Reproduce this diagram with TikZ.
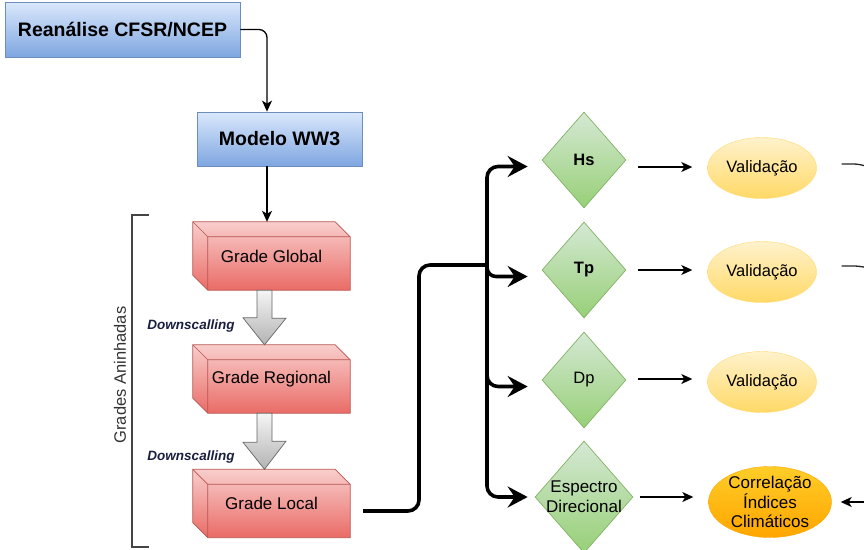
\documentclass[tikz,border=0pt]{standalone}
\usepackage{fontspec}
\setmainfont{Liberation Sans}
\usetikzlibrary{shapes.geometric,arrows.meta,backgrounds,calc}
\definecolor{bluetop}{HTML}{DAE8FC}
\definecolor{bluebot}{HTML}{7EA6E0}
\definecolor{blueline}{HTML}{6C8EBF}
\definecolor{redtop}{HTML}{F8CECC}
\definecolor{redbot}{HTML}{EA6B66}
\definecolor{redline}{HTML}{B85450}
\definecolor{greentop}{HTML}{D5E8D4}
\definecolor{greenbot}{HTML}{97D077}
\definecolor{greenline}{HTML}{82B366}
\definecolor{yeltop}{HTML}{FFF2CC}
\definecolor{yelbot}{HTML}{FFD966}
\definecolor{orgtop}{HTML}{FFCD28}
\definecolor{orgbot}{HTML}{FFA500}
\definecolor{graytop}{HTML}{F5F5F5}
\definecolor{graybot}{HTML}{B3B3B3}
\definecolor{grayline}{HTML}{666666}
\definecolor{navytext}{HTML}{1A1F40}
\definecolor{brackline}{HTML}{444444}
\tikzset{
  bluebox/.style={draw=blueline, line width=0.8pt, top color=bluetop, bottom color=bluebot,
    font=\fontsize{19.5}{22}\selectfont\bfseries, inner sep=0pt},
  cubebox/.style={inner sep=0pt, minimum width=157pt, minimum height=68pt,
    font=\fontsize{17}{20}\selectfont},
  cubefill/.style={top color=redtop, bottom color=redbot},
  cubeline/.style={draw=redline, line width=0.7pt},
  dia/.style={shape=diamond, draw=greenline, line width=0.7pt, top color=greentop, bottom color=greenbot,
    inner sep=0pt, minimum width=84pt, minimum height=96pt},
  dlbl/.style={font=\fontsize{16.5}{20}\selectfont, align=center},
  ell/.style={shape=ellipse, top color=yeltop, bottom color=yelbot, draw=yelbot!90!yeltop, line width=0.4pt,
    inner sep=0pt, minimum width=109pt, minimum height=61pt},
  elo/.style={shape=ellipse, top color=orgtop, bottom color=orgbot, draw=orgbot, line width=0.4pt,
    inner sep=0pt, minimum width=123pt, minimum height=71pt},
  elbl/.style={font=\fontsize{16.5}{19.5}\selectfont, align=center},
  conn/.style={draw=black, line width=1.3pt, -{Stealth[length=11pt,width=10pt,inset=3pt]}},
  thinline/.style={draw=black!85, line width=1.3pt},
  thickline/.style={draw=black, line width=3.6pt},
  thickarrow/.style={draw=black, line width=3.6pt, -{Stealth[length=20pt,width=21pt,inset=7pt]}},
  blockarrow/.style={draw=grayline, line width=0.7pt, top color=graytop, bottom color=graybot},
  dslbl/.style={font=\fontsize{13.5}{16}\selectfont\bfseries\itshape, text=navytext},
}
\newcommand\drawcube[1]{%
  \path[cubefill] (#1.north west) -- ([xshift=-15pt]#1.north east) -- ([yshift=-15pt]#1.north east)
     -- (#1.south east) -- ([xshift=15pt]#1.south west) -- ([yshift=15pt]#1.south west) -- cycle;
  \draw[cubeline] (#1.north west) -- ([xshift=-15pt]#1.north east) -- ([yshift=-15pt]#1.north east)
     -- (#1.south east) -- ([xshift=15pt]#1.south west) -- ([yshift=15pt]#1.south west) -- cycle;
  \draw[cubeline] (#1.north west) -- ([xshift=15pt,yshift=-15pt]#1.north west) -- ([yshift=-15pt]#1.north east)
     ([xshift=15pt,yshift=-15pt]#1.north west) -- ([xshift=15pt]#1.south west);
}
\newcommand\drawblock[3]{% from node #1 to node #2, x offset #3
  \coordinate (bk1) at ([xshift=#3]#1.south);
  \coordinate (bk2) at (bk1 |- #2.north);
  \path[blockarrow] (bk1) ++(-7.5,0) -- ++(15,0) -- ++(0,28) -- ++(14,0)
     -- (bk2) -- ++(-21.5,-27) -- ++(14,0) -- cycle;
}
\begin{document}
\begin{tikzpicture}[x=1pt,y=-1pt]
\useasboundingbox (0,0) rectangle (864,549);

% blue boxes
\node[bluebox, minimum width=235pt, minimum height=55pt] (re) at (122.5,29.5) {Reanálise CFSR/NCEP};
\node[bluebox, minimum width=165pt, minimum height=54pt] (mw) at (279.5,139) {Modelo WW3};

% cubes
\node[cubebox] (gg) at (271.5,256) {Grade Global};
\node[cubebox] (gr) at (271.5,379) {Grade Regional};
\node[cubebox] (gl) at (271.5,503.5) {Grade Local};
\begin{pgfonlayer}{background}
  \drawcube{gg}
  \drawcube{gr}
  \drawcube{gl}
\end{pgfonlayer}

% block arrows
\drawblock{gg}{gr}{-7pt}
\drawblock{gr}{gl}{-7pt}
\node[dslbl] (ds1) at (191,326) {Downscalling};
\node[dslbl] (ds2) at (191,457) {Downscalling};

% bracket
\coordinate (bt) at (149,215);
\coordinate (bb) at (149,547);
\draw[brackline, line width=1.2pt] (bt) -- ++(-17,0) -- ++(0,332) -- (bb);
\node[rotate=90, font=\fontsize{16.5}{20}\selectfont, text=black!80] (ga) at (120,375) {Grades Aninhadas};

% connectors top
\draw[conn, rounded corners=8pt] (re.east) -| ([xshift=-12.5pt]mw.north);
\coordinate (mwb) at ([xshift=-12.5pt]mw.south);
\draw[conn] (mwb) -- (mwb |- gg.north);

% diamonds
\node[dia, label={[dlbl, font=\fontsize{16.5}{20}\selectfont\bfseries]center:Hs}] (hs) at (584,160) {};
\node[dia, label={[dlbl, font=\fontsize{16.5}{20}\selectfont\bfseries]center:Tp}] (tp) at (584,270) {};
\node[dia, label={[dlbl]center:Dp}] (dp) at (584,380) {};
\node[dia, minimum width=98pt, minimum height=112pt, label={[dlbl, font=\fontsize{17}{20}\selectfont]center:Espectro\\Direcional}] (es) at (584,497) {};

% ellipses
\node[ell, label={[elbl]center:Validação}] (va) at (762,168) {};
\node[ell, label={[elbl]center:Validação}] (vb) at (762,272) {};
\node[ell, label={[elbl]center:Validação}] (vc) at (762,382) {};
\node[elo, label={[elbl, font=\fontsize{17}{19.5}\selectfont]center:Correlação\\Índices\\Climáticos}] (co) at (770,502) {};

% thick tree
\coordinate (ja) at (419,265);
\coordinate (jb) at (487,265);
\draw[thickline, rounded corners=11pt] ([xshift=13pt,yshift=-7.5pt]gl.east) -| (ja) -- (jb);
\draw[thickarrow, rounded corners=11pt] (jb) |- ([xshift=-14pt,yshift=-6.5pt]hs.west);
\draw[thickarrow, rounded corners=9pt] (jb) |- ([xshift=-14pt,yshift=-6.5pt]tp.west);
\draw[thickarrow, rounded corners=11pt] (jb) |- ([xshift=-14pt,yshift=-6.5pt]dp.west);
\draw[thickarrow, rounded corners=11pt] (jb) |- ([xshift=-7pt]es.west);

% thin arrows
\coordinate (hsR) at ([xshift=12pt,yshift=-7pt]hs.east);
\coordinate (tpR) at ([xshift=12pt]tp.east);
\coordinate (dpR) at ([xshift=12pt,yshift=1pt]dp.east);
\coordinate (esR) at ([xshift=7pt]es.east);
\draw[conn, shorten >=15pt] (hsR) -- (hsR -| va.west);
\draw[conn, shorten >=15pt] (tpR) -- (tpR -| vb.west);
\draw[conn, shorten >=15pt] (dpR) -- (dpR -| vc.west);
\draw[conn, shorten >=15pt] (esR) -- (esR -| co.west);

% right edge lines
\coordinate (ra) at (868,167);
\coordinate (rb) at (868,268);
\coordinate (rc) at (868,502);
\draw[thinline, rounded corners=6pt] ([xshift=25pt,yshift=4pt]va.east) -- ++(18,0) -- (ra);
\draw[thinline, rounded corners=6pt] ([xshift=25pt,yshift=6pt]vb.east) -- ++(18,0) -- (rb);
\draw[conn] (rc) -- ([xshift=9pt]co.east);
\end{tikzpicture}
\end{document}
